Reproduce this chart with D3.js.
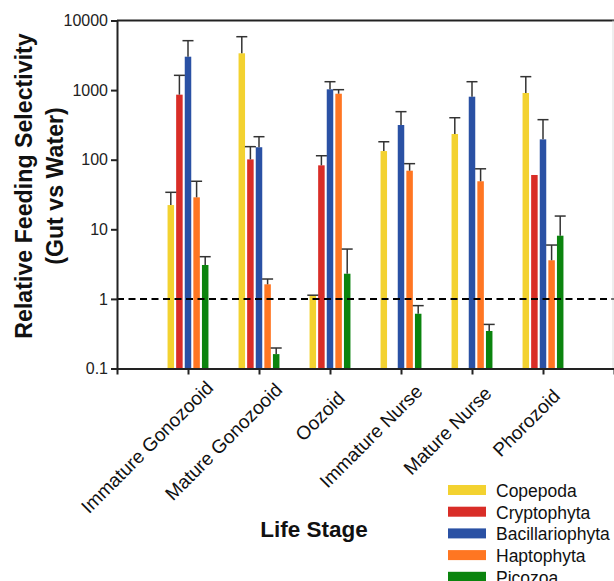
<!DOCTYPE html>
<html>
<head>
<meta charset="utf-8">
<script src="https://cdn.jsdelivr.net/npm/d3@7/dist/d3.min.js"></script>
<style>
  html, body { margin: 0; padding: 0; background: #fff; }
  svg { display: block; font-family: "Liberation Sans", Arial, sans-serif; }
</style>
</head>
<body>
<svg id="chart" width="614" height="581"></svg>
<script>
// Life stages along the x axis
const stages = ["Immature Gonozooid", "Mature Gonozooid", "Oozoid", "Immature Nurse", "Mature Nurse", "Phorozoid"];

// Prey groups (legend order)
const groups = ["Copepoda", "Cryptophyta", "Bacillariophyta", "Haptophyta", "Picozoa"];
const groupColors = ["#F3D230", "#D92D27", "#2A51A4", "#FF7622", "#0B840E"];

// Mean selectivity per stage (null = not detected)
const copepoda        = [22.3, 3380, 1.11, 133, 234, 909];
const cryptophyta     = [860, 101, 83, null, null, 60.3];
const bacillariophyta = [3020, 151, 1026, 315, 804, 196];
const haptophyta      = [28.8, 1.62, 887, 69.5, 49, 3.59];
const picozoa         = [3.07, 0.161, 2.30, 0.612, 0.346, 8.09];

// Upper end of each error bar (null = no bar)
const copepodaHi        = [34, 5850, 1.13, 181, 401, 1560];
const cryptophytaHi     = [1630, 154, 114, null, null, null];
const bacillariophytaHi = [5130, 214, 1320, 490, 1320, 376];
const haptophytaHi      = [49, 1.93, 1014, 87.7, 74, 5.94];
const picozoaHi         = [4.04, 0.197, 5.2, 0.80, 0.43, 15.5];

// Y axis ticks
const yTickValues = [0.1, 1, 10, 100, 1000, 10000];
const yTickLabels = ["0.1", "1", "10", "100", "1000", "10000"];

const seriesValues = [copepoda, cryptophyta, bacillariophyta, haptophyta, picozoa];
const seriesHi = [copepodaHi, cryptophytaHi, bacillariophytaHi, haptophytaHi, picozoaHi];

const svg = d3.select("#chart");
const plotLeft = 117, plotRight = 614, plotTop = 20.5, plotBottom = 368.5;

const x = d3.scalePoint().domain(stages).range([plotLeft, plotRight]).padding(1);
const inner = d3.scaleBand().domain(groups).range([-20.45, 20.45]).paddingInner(0.244);
const y = d3.scaleLog().domain([0.1, 10000]).range([plotBottom, plotTop]);
const color = d3.scaleOrdinal().domain(groups).range(groupColors);

// Flatten into records
const records = [];
groups.forEach((g, gi) => {
  stages.forEach((s, si) => {
    const v = seriesValues[gi][si];
    if (v != null) records.push({ group: g, stage: s, value: v, hi: seriesHi[gi][si] });
  });
});

// Bars
svg.append("g").selectAll("rect")
  .data(records)
  .join("rect")
  .attr("x", d => x(d.stage) + inner(d.group))
  .attr("width", inner.bandwidth())
  .attr("y", d => y(d.value))
  .attr("height", d => plotBottom - y(d.value))
  .attr("fill", d => color(d.group));

// Error bars (upper only)
const capW = 11;
const eb = svg.append("g").attr("stroke", "#333").attr("stroke-width", 1.5).attr("fill", "none");
records.filter(d => d.hi != null).forEach(d => {
  const cx = x(d.stage) + inner(d.group) + inner.bandwidth() / 2;
  eb.append("line").attr("x1", cx).attr("x2", cx).attr("y1", y(d.value)).attr("y2", y(d.hi));
  eb.append("line").attr("x1", cx - capW / 2).attr("x2", cx + capW / 2).attr("y1", y(d.hi)).attr("y2", y(d.hi));
});

// Reference line at selectivity = 1
svg.append("line")
  .attr("x1", plotLeft).attr("x2", plotRight)
  .attr("y1", y(1)).attr("y2", y(1))
  .attr("stroke", "#000").attr("stroke-width", 2)
  .attr("stroke-dasharray", "7,4.5");

// Frame: top border and faint right edge
svg.append("line").attr("x1", plotLeft).attr("x2", plotRight).attr("y1", plotTop).attr("y2", plotTop)
  .attr("stroke", "#222").attr("stroke-width", 2);
svg.append("line").attr("x1", 613).attr("x2", 613).attr("y1", plotTop).attr("y2", plotBottom)
  .attr("stroke", "#ddd").attr("stroke-width", 1);

// Y axis
const yAxis = d3.axisLeft(y).tickValues(yTickValues)
  .tickFormat((d, i) => yTickLabels[i]).tickSize(6).tickPadding(3);
const gy = svg.append("g").attr("transform", `translate(${plotLeft},0)`).call(yAxis);
gy.select(".domain").attr("stroke", "#222").attr("stroke-width", 2);
gy.selectAll(".tick line").attr("stroke", "#222").attr("stroke-width", 2);
gy.selectAll(".tick text").attr("font-size", 16).attr("fill", "#222")
  .attr("font-family", "'Liberation Sans', Arial, sans-serif");

// X axis
const xAxis = d3.axisBottom(x).tickSize(6).tickFormat("");
const gx = svg.append("g").attr("transform", `translate(0,${plotBottom})`).call(xAxis);
gx.select(".domain").attr("stroke", "#222").attr("stroke-width", 2);
gx.selectAll(".tick line").attr("stroke", "#222").attr("stroke-width", 2);

// Rotated stage labels; longer labels sit slightly further along their baseline
const stageLabels = svg.append("g").selectAll("text")
  .data(stages)
  .join("text")
  .attr("text-anchor", "end")
  .attr("font-size", 19)
  .attr("fill", "#111")
  .text(d => d);
stageLabels.attr("transform", function(d) {
  const shift = 0.127 * this.getComputedTextLength() * Math.SQRT1_2;
  return `translate(${x(d) + 10.5 + shift},${plotBottom + 36.5 - shift}) rotate(-45)`;
});

// Axis titles
svg.append("text")
  .attr("x", 314).attr("y", 537)
  .attr("text-anchor", "middle")
  .attr("font-size", 22.5).attr("font-weight", "bold").attr("fill", "#111")
  .text("Life Stage");

const yt = svg.append("text")
  .attr("transform", "translate(0,186) rotate(-90)")
  .attr("text-anchor", "middle")
  .attr("font-size", 23.2).attr("font-weight", "bold").attr("fill", "#111");
yt.append("tspan").attr("x", 0).attr("y", 32).text("Relative Feeding Selectivity");
yt.append("tspan").attr("x", 0).attr("y", 63).text("(Gut vs Water)");

// Legend
const legend = svg.append("g").selectAll("g")
  .data(groups)
  .join("g")
  .attr("transform", (d, i) => `translate(448,${485 + i * 21.7})`);
legend.append("rect").attr("width", 38).attr("height", 10).attr("fill", d => color(d));
legend.append("text").attr("x", 48).attr("y", 12).attr("font-size", 17.5).attr("fill", "#111").text(d => d);
</script>
</body>
</html>
